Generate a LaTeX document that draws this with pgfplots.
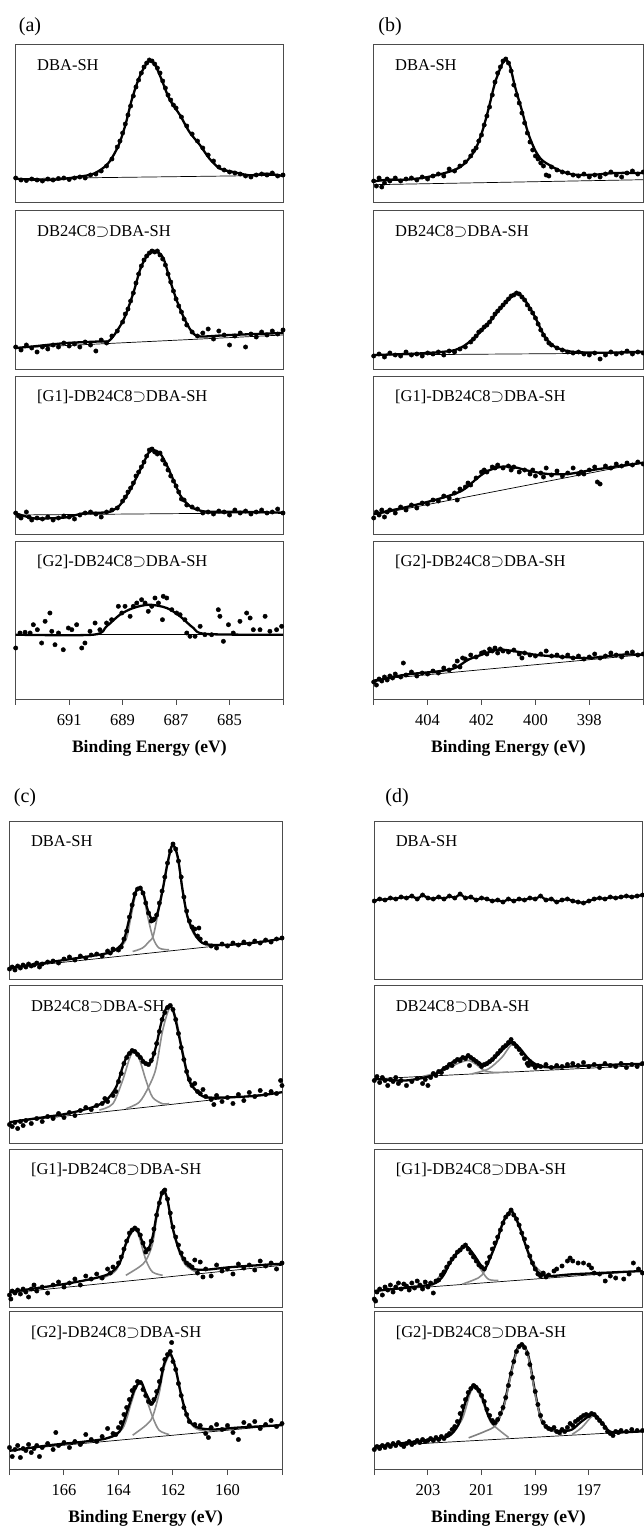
\documentclass[border=0pt]{standalone}
\usepackage{fontspec}
\setmainfont{Liberation Serif}
\usepackage{pgfplots}
\pgfplotsset{compat=1.18}

\tikzset{
  lbl/.style={anchor=base west, xshift=18pt, yshift=-25.5pt, font=\fontsize{16.5}{18}\selectfont},
  tag/.style={font=\fontsize{20}{22}\selectfont},
}
\pgfplotsset{
  panel/.style={scale only axis, height=158pt, ymin=0, ymax=158, ytick=\empty,
    x dir=reverse, anchor=north west,
    axis line style={draw=black!70, line width=1pt},
    tick style={draw=black!70, line width=1pt}},
  bottomrow/.style={tick align=outside, major tick length=5.7pt, xtick pos=bottom,
    xticklabel style={font=\fontsize{16.5}{18}\selectfont, yshift=-6pt},
    xlabel={\bfseries Binding Energy (eV)},
    xlabel style={font=\fontsize{17.5}{19}\selectfont, at={(axis description cs:0.5,0)}, anchor=center, yshift=-49pt}},
  dots/.style={only marks, mark=*, mark size=2.2pt, black},
  fitl/.style={black, line width=2.3pt, no marks, smooth},
  base/.style={black, line width=0.7pt, no marks},
  comp/.style={black!45, line width=1.6pt, no marks, smooth},
}

\begin{document}
\begin{tikzpicture}[x=1pt,y=1pt]
\path[use as bounding box] (0pt,0pt) rectangle (644pt,-1530pt);
\node[tag] at (30pt,-27pt) {(a)};
\node[tag] at (390pt,-27pt) {(b)};
\node[tag] at (25pt,-798pt) {(c)};
\node[tag] at (397pt,-798pt) {(d)};

% ---------------- (a) F 1s
\begin{axis}[panel, at={(15.7pt,-45pt)}, width=267.3pt, xmin=683, xmax=693, xtick=\empty]
\addplot[base] coordinates {(693,24.3)(683,27.7)};
\addplot[dots] coordinates {(693,25)(692.8,23)(692.6,22.5)(692.4,24)(692.2,23)(692,22)(691.8,24)(691.6,23)(691.4,24.5)(691.2,25)(691,23.5)(690.8,25)(690.6,26)(690.4,25)(690.2,28)(690,29)(689.8,32)(689.6,37)(689.4,44)(689.2,56)(689.1,62)(689,70)(688.9,79)(688.8,88)(688.7,97)(688.6,107)(688.5,116)(688.4,123)(688.3,130)(688.2,136)(688.1,140)(688,143)(687.9,142)(687.8,139)(687.7,135)(687.6,130)(687.5,122)(687.4,115)(687.3,108)(687.2,103)(687.1,98)(687,95)(686.8,86)(686.6,77)(686.4,69)(686.2,62)(686,55)(685.8,48)(685.6,42)(685.4,36)(685.2,33)(685,31)(684.8,30)(684.6,29)(684.4,27)(684.2,26)(684,28)(683.8,29)(683.6,28)(683.4,30)(683.2,27)(683,28)};
\addplot[fitl] coordinates {(693,24.3)(691.7,23)(690.3,27.7)(689.85,32.7)(689.5,41)(689.15,57.7)(688.9,77.7)(688.65,104)(688.4,124)(688.15,137.7)(687.98,142)(687.8,139)(687.55,124)(687.25,104)(686.85,87.7)(686.5,71)(686.1,57.7)(685.75,44.3)(685.35,34.3)(684.85,31)(684.25,27.7)(683.6,29.3)(683,27)};
\node[lbl] at (rel axis cs:0,1) {DBA-SH};
\end{axis}

\begin{axis}[panel, at={(15.7pt,-211pt)}, width=267.3pt, xmin=683, xmax=693, xtick=\empty]
\addplot[base] coordinates {(693,21)(683,34)};
\addplot[dots] coordinates {(693,22)(692.8,19)(692.6,24)(692.4,21)(692.2,17)(692,22)(691.8,20)(691.6,24)(691.4,22)(691.2,26)(691,23)(690.8,25)(690.6,22)(690.4,27)(690.2,24)(690,18)(689.8,29)(689.6,26)(689.4,33)(689.2,38)(689,47)(688.9,55)(688.8,60)(688.7,68)(688.6,76)(688.5,86)(688.4,95)(688.3,103)(688.2,109)(688.1,113)(688,116)(687.9,118)(687.8,117)(687.7,118)(687.6,114)(687.5,110)(687.4,104)(687.3,95)(687.2,87)(687.1,78)(687,70)(686.9,63)(686.8,57)(686.7,50)(686.6,44)(686.4,37)(686.2,33)(686,36)(685.8,40)(685.6,30)(685.4,38)(685.2,34)(685,24)(684.8,33)(684.6,36)(684.4,22)(684.2,35)(684,32)(683.8,37)(683.6,34)(683.4,38)(683.2,35)(683,39)};
\addplot[fitl] coordinates {(693,21)(692.34,22.6)(691.09,26)(689.85,27.6)(689.47,29)(688.97,49)(688.6,76)(688.35,99)(688.1,112.6)(687.79,117.7)(687.48,111)(687.23,89)(686.98,69)(686.73,52.6)(686.42,37.6)(686.1,32.6)(685,34)(683,36)};
\node[lbl] at (rel axis cs:0,1) {DB24C8$\supset$DBA-SH};
\end{axis}

\begin{axis}[panel, at={(15.7pt,-376pt)}, width=267.3pt, xmin=683, xmax=693, xtick=\empty]
\addplot[base] coordinates {(693,19)(683,21.3)};
\addplot[dots] coordinates {(693,21)(692.9,18)(692.8,16)(692.6,22)(692.5,17)(692.4,14)(692.2,16)(692,15)(691.8,17)(691.6,14)(691.4,16)(691.2,18)(691,17)(690.8,15)(690.6,19)(690.4,21)(690.2,22)(690,20)(689.8,17)(689.6,22)(689.4,24)(689.2,26)(689,33)(688.9,37)(688.8,42)(688.7,46)(688.6,51)(688.5,58)(688.4,62)(688.3,67)(688.2,72)(688.1,78)(688,84)(687.9,85)(687.8,82)(687.7,80)(687.6,81)(687.5,74)(687.4,70)(687.3,64)(687.2,58)(687.1,53)(687,48)(686.9,42)(686.8,35)(686.7,34)(686.6,29)(686.4,27)(686.2,25)(686,21)(685.8,22)(685.6,20)(685.4,23)(685.2,22)(685,19)(684.8,24)(684.6,21)(684.4,23)(684.2,20)(684,22)(683.8,24)(683.6,21)(683.4,22)(683.2,25)(683,21)};
\addplot[fitl] coordinates {(693,20.7)(692.34,15.7)(691.72,15.7)(691.09,16.7)(690.47,20.7)(689.85,21.3)(689.47,22.3)(689.1,29)(688.72,44)(688.47,57.3)(688.22,70.7)(688.04,80.7)(687.85,84)(687.6,80.7)(687.35,69)(687.1,54)(686.85,39)(686.6,30.7)(686.35,25.7)(685.86,22.3)(684.86,22.3)(683,21.3)};
\node[lbl] at (rel axis cs:0,1) {[G1]-DB24C8$\supset$DBA-SH};
\end{axis}

\begin{axis}[panel, bottomrow, at={(15.7pt,-541pt)}, width=267.3pt, xmin=683, xmax=693,
  xtick={683,685,...,693}, xticklabels={,685,687,689,691,}]
\addplot[base] coordinates {(693,64.3)(683,64.3)};
\addplot[dots] coordinates {(693,51)(692.84,66)(692.65,66.7)(692.46,66)(692.34,74.3)(692.19,69.3)(692.03,56)(691.9,77.7)(691.72,86)(691.65,67.7)(691.53,54.3)(691.4,66)(691.22,49.3)(691.03,71)(690.9,69.3)(690.72,74.3)(690.53,51)(690.41,56)(690.22,67.7)(690.03,76)(689.85,69.3)(689.6,76)(689.41,79.3)(689.16,92.7)(689.03,86)(688.91,92.7)(688.72,82.7)(688.6,92.7)(688.47,96)(688.29,99.3)(688.16,96)(688.04,87.7)(687.91,92.7)(687.79,101)(687.66,96)(687.51,79.3)(687.48,102.7)(687.35,101)(687.16,89.3)(686.98,86)(686.85,84.3)(686.67,79.3)(686.6,66)(686.48,62.7)(686.29,62.7)(686.1,72.7)(685.92,64.3)(685.67,64.3)(685.42,89.3)(685.36,82.7)(685.23,57.7)(685.04,74.3)(684.86,66)(684.61,77.7)(684.36,86)(684.23,81)(684.11,69.3)(683.86,69.3)(683.67,82.7)(683.49,67.7)(683.24,69.3)(683.05,72.7)};
\addplot[fitl] coordinates {(693,64.3)(690.1,64.3)(689.6,72.7)(689.1,84.3)(688.6,91)(688,94.3)(687.35,91)(686.85,82.7)(686.35,71)(685.86,65)(683,64.3)};
\node[lbl] at (rel axis cs:0,1) {[G2]-DB24C8$\supset$DBA-SH};
\end{axis}

% ---------------- (b) N 1s
\begin{axis}[panel, at={(373.7pt,-45pt)}, width=269.5pt, xmin=396, xmax=406, xtick=\empty]
\addplot[base] coordinates {(406,18.3)(396,23.3)};
\addplot[dots] coordinates {(406,22)(405.9,17)(405.8,25)(405.7,16)(405.6,20)(405.5,24)(405.4,22)(405.2,25)(405,22)(404.8,24)(404.6,25)(404.4,23)(404.2,26)(404,24)(403.8,27)(403.6,29)(403.4,27)(403.2,34)(403,32)(402.8,37)(402.6,41)(402.4,47)(402.3,52)(402.2,55)(402.1,62)(402,68)(401.9,78)(401.8,87)(401.7,96)(401.6,108)(401.5,121)(401.4,130)(401.3,136)(401.2,142)(401.1,144)(401,140)(400.9,132)(400.8,118)(400.7,108)(400.6,100)(400.5,90)(400.4,80)(400.3,70)(400.2,61)(400.1,53)(400,47)(399.9,44)(399.8,40)(399.7,37)(399.6,28)(399.5,27)(399.4,36)(399.2,33)(399,31)(398.8,30)(398.6,28)(398.4,27)(398.2,29)(398,26)(397.8,28)(397.6,26)(397.4,29)(397.2,31)(397,28)(396.8,26)(396.6,30)(396.4,32)(396.2,29)(396,31)};
\addplot[fitl] coordinates {(406,21.7)(405.45,23.3)(404.83,23.3)(404.21,25)(403.6,28.3)(402.98,33.3)(402.61,40)(402.24,53)(401.99,70)(401.75,93)(401.5,120)(401.25,138)(401.1,143.3)(400.94,136.7)(400.76,116.7)(400.51,93.3)(400.27,70)(400.02,53.3)(399.77,43.3)(399.4,36.7)(399.03,31.7)(398.54,28.3)(397.8,28.3)(397.06,30)(396,30)};
\node[lbl] at (rel axis cs:0,1) {DBA-SH};
\end{axis}

\begin{axis}[panel, at={(373.7pt,-211pt)}, width=269.5pt, xmin=396, xmax=406, xtick=\empty]
\addplot[base] coordinates {(406,14)(396,16)};
\addplot[dots] coordinates {(406,13)(405.8,15)(405.6,12)(405.4,16)(405.2,14)(405,13)(404.8,17)(404.6,14)(404.4,15)(404.2,13)(404,16)(403.8,15)(403.6,17)(403.4,14)(403.2,18)(403,17)(402.8,20)(402.6,22)(402.4,27)(402.3,30)(402.2,33)(402.1,37)(402,39)(401.9,42)(401.8,44)(401.7,47)(401.6,51)(401.5,55)(401.4,58)(401.3,61)(401.2,64)(401.1,67)(401,70)(400.9,73)(400.8,74)(400.7,76)(400.6,75)(400.5,72)(400.4,69)(400.3,64)(400.2,60)(400.1,56)(400,51)(399.9,45)(399.8,39)(399.7,34)(399.6,30)(399.5,26)(399.4,24)(399.2,21)(399,19)(398.8,17)(398.6,16)(398.4,17)(398.2,15)(398,14)(397.8,16)(397.6,10)(397.4,14)(397.2,17)(397,15)(396.8,16)(396.6,18)(396.4,15)(396.2,17)(396,16)};
\addplot[fitl] coordinates {(406,14)(404.21,15.7)(402.98,19)(402.36,29)(401.75,45.7)(401.25,62.3)(400.88,72.3)(400.66,75.7)(400.39,69)(400.02,52.3)(399.65,32.3)(399.28,22.3)(398.66,17.3)(397.43,16.3)(396,17.3)};
\node[lbl] at (rel axis cs:0,1) {DB24C8$\supset$DBA-SH};
\end{axis}

\begin{axis}[panel, at={(373.7pt,-376pt)}, width=269.5pt, xmin=396, xmax=406, xtick=\empty]
\addplot[base] coordinates {(406,19)(396,71.3)};
\addplot[dots] coordinates {(406,16)(405.9,22)(405.8,19)(405.7,24)(405.6,17)(405.5,22)(405.4,24)(405.2,21)(405,27)(404.8,24)(404.6,29)(404.4,26)(404.2,31)(404,30)(403.8,34)(403.6,33)(403.4,38)(403.2,36)(403,41)(402.9,34)(402.8,45)(402.6,47)(402.5,51)(402.4,49)(402.2,56)(402,62)(401.9,64)(401.8,62)(401.6,67)(401.5,66)(401.4,69)(401.2,66)(401,68)(400.9,64)(400.8,67)(400.6,62)(400.4,64)(400.2,60)(400.1,64)(400,58)(399.8,61)(399.7,57)(399.6,66)(399.4,59)(399.2,63)(399,58)(398.8,61)(398.6,66)(398.4,60)(398.3,62)(398.2,60)(398,64)(397.8,67)(397.7,52)(397.6,50)(397.4,68)(397.2,66)(397,70)(396.8,68)(396.6,71)(396.4,69)(396.2,72)(396,70)};
\addplot[fitl] coordinates {(406,20)(404.83,26.7)(403.6,35)(402.73,43.3)(402.12,56.7)(401.75,63.3)(401.25,67.3)(400.76,66.7)(400.27,63.3)(399.53,60)(398.79,60)(398.05,63.3)(397.06,67.3)(396,71.3)};
\node[lbl] at (rel axis cs:0,1) {[G1]-DB24C8$\supset$DBA-SH};
\end{axis}

\begin{axis}[panel, bottomrow, at={(373.7pt,-541pt)}, width=269.5pt, xmin=396, xmax=406,
  xtick={396,398,...,406}, xticklabels={,398,400,402,404,}]
\addplot[base] coordinates {(406,19.3)(396,44.3)};
\addplot[dots] coordinates {(406,17)(405.9,14)(405.8,20)(405.7,18)(405.6,22)(405.5,19)(405.4,23)(405.3,21)(405.2,25)(405,22)(404.9,36)(404.8,24)(404.6,27)(404.4,23)(404.2,26)(404,25)(403.8,28)(403.6,26)(403.4,31)(403.2,29)(403,33)(402.9,38)(402.8,32)(402.7,41)(402.6,40)(402.4,44)(402.2,42)(402,46)(401.9,47)(401.8,45)(401.7,50)(401.6,48)(401.5,51)(401.4,46)(401.3,50)(401.2,48)(401,47)(400.8,49)(400.6,45)(400.5,41)(400.4,46)(400.2,44)(400,43)(399.8,45)(399.6,48)(399.4,43)(399.2,44)(399,42)(398.8,44)(398.6,41)(398.4,43)(398.2,40)(398,42)(397.8,45)(397.6,41)(397.4,43)(397.2,46)(397,44)(396.8,42)(396.6,46)(396.4,47)(396.2,44)(396,45)};
\addplot[fitl] coordinates {(406,17.7)(404.83,24.3)(403.6,27.7)(402.98,31)(402.49,39.3)(401.99,44.3)(401.38,49.3)(400.76,47.7)(400.02,44.3)(399.28,42.7)(398.05,41)(396.81,44.3)(396,44.3)};
\node[lbl] at (rel axis cs:0,1) {[G2]-DB24C8$\supset$DBA-SH};
\end{axis}

% ---------------- (c) S 2p
\begin{axis}[panel, at={(9.5pt,-821pt)}, width=272.5pt, xmin=158, xmax=168, xtick=\empty]
\addplot[base] coordinates {(168,11)(158,40)};
\addplot[comp] coordinates {(164.09,27.3)(163.73,39)(163.54,62.7)(163.36,86)(163.24,91)(163.09,84)(162.93,62.7)(162.73,41)(162.51,31)(162.14,29.2)};
\addplot[comp] coordinates {(163.48,27.5)(163.12,31)(162.87,37.7)(162.73,42.7)(162.57,62.7)(162.38,87.7)(162.2,114)(162.02,132.7)(161.83,121)(161.65,87.7)(161.47,61)(161.22,44.3)(160.92,36)(160.55,33.5)};
\addplot[dots] coordinates {(168,10)(167.9,12)(167.8,9)(167.7,13)(167.6,11)(167.5,14)(167.4,12)(167.3,15)(167.2,13)(167.1,14)(167,16)(166.9,12)(166.8,15)(166.6,17)(166.4,18)(166.2,16)(166,20)(165.8,22)(165.6,19)(165.4,23)(165.2,21)(165,24)(164.8,25)(164.6,23)(164.4,28)(164.3,26)(164.2,30)(164,29)(163.9,32)(163.8,40)(163.7,48)(163.6,62)(163.5,74)(163.4,85)(163.3,90)(163.2,91)(163.1,86)(163,76)(162.9,66)(162.8,58)(162.7,60)(162.6,64)(162.5,76)(162.4,88)(162.3,102)(162.2,116)(162.1,128)(162,135)(161.9,130)(161.8,118)(161.7,102)(161.6,82)(161.5,68)(161.4,58)(161.3,52)(161.2,50)(161.1,43)(161.05,51)(161,40)(160.8,36)(160.6,33)(160.4,31)(160.2,35)(160,33)(159.8,36)(159.6,34)(159.4,37)(159.2,35)(159,38)(158.8,36)(158.6,39)(158.4,37)(158.2,40)(158,41)};
\addplot[fitl] coordinates {(168,11)(167.15,14.3)(165.92,19.3)(164.7,24.3)(164.21,27.7)(163.85,36)(163.67,52.7)(163.48,76)(163.36,87.7)(163.24,91)(163.09,86)(162.93,69.3)(162.73,57.7)(162.57,66)(162.38,89.3)(162.2,116)(162.02,134.3)(161.83,122.7)(161.65,89.3)(161.47,62.7)(161.22,46)(160.92,36)(160.43,34)(159.58,34.8)(158.6,37.7)(158,40.5)};
\node[lbl] at (rel axis cs:0,1) {DBA-SH};
\end{axis}

\begin{axis}[panel, at={(9.5pt,-985.5pt)}, width=272.5pt, xmin=158, xmax=168, xtick=\empty]
\addplot[base] coordinates {(168,21.3)(158,51.3)};
\addplot[comp] coordinates {(164.7,33.5)(164.21,39.7)(163.85,63)(163.6,84.7)(163.46,91.3)(163.24,84.7)(162.99,63)(162.75,46.3)(162.38,39.7)(162.14,40)};
\addplot[comp] coordinates {(163.73,34.7)(163.24,41.3)(162.9,56.3)(162.63,74.7)(162.38,113)(162.11,136.3)(161.9,126.3)(161.65,93)(161.41,66.3)(161.04,49.7)(160.55,44.7)};
\addplot[dots] coordinates {(168,19)(167.9,17)(167.8,21)(167.7,15)(167.6,22)(167.5,18)(167.4,23)(167.2,20)(167,25)(166.8,22)(166.6,27)(166.4,25)(166.2,30)(166,26)(165.8,31)(165.6,28)(165.4,33)(165.2,36)(165,34)(164.8,38)(164.6,40)(164.5,45)(164.4,42)(164.2,48)(164.1,52)(164,62)(163.9,70)(163.8,80)(163.7,86)(163.6,90)(163.5,93)(163.4,92)(163.3,89)(163.2,86)(163.1,82)(163,80)(162.9,79)(162.8,83)(162.7,90)(162.6,100)(162.5,112)(162.4,124)(162.3,131)(162.2,136)(162.1,138)(162,134)(161.9,124)(161.8,110)(161.7,96)(161.6,84)(161.5,72)(161.4,64)(161.3,58)(161.2,60)(161.1,52)(161,50)(160.9,54)(160.8,47)(160.6,44)(160.5,39)(160.4,48)(160.2,42)(160,46)(159.8,40)(159.6,49)(159.4,43)(159.2,51)(159,47)(158.8,53)(158.6,49)(158.4,52)(158.2,50)(158.05,63)(158,58)};
\addplot[fitl] coordinates {(168,21.3)(167.15,24.7)(165.92,29.7)(164.95,36.3)(164.46,43)(164.09,56.3)(163.85,76.3)(163.67,88.3)(163.46,93)(163.24,88.3)(162.99,79.7)(162.81,81.3)(162.63,96.3)(162.44,119.7)(162.26,134.7)(162.11,138)(161.96,129.7)(161.77,106.3)(161.59,83)(161.41,63)(161.16,53)(160.8,46.3)(159.82,46.3)(158.84,48)(158,51.3)};
\node[lbl] at (rel axis cs:0,1) {DB24C8$\supset$DBA-SH};
\end{axis}

\begin{axis}[panel, at={(9.5pt,-1149pt)}, width=272.5pt, xmin=158, xmax=168, xtick=\empty]
\addplot[base] coordinates {(168,14)(158,41.7)};
\addplot[comp] coordinates {(164.7,28)(164.09,36.7)(163.73,61.7)(163.54,73.3)(163.38,77.3)(163.24,70)(162.99,46.7)(162.75,35)(162.38,31.7)};
\addplot[comp] coordinates {(163.73,31.7)(163.24,40)(162.99,46.7)(162.75,63.3)(162.57,93.3)(162.36,115)(162.2,105)(162.02,78.3)(161.77,55)(161.53,41.7)(161.16,35)};
\addplot[dots] coordinates {(168,12)(167.95,8)(167.9,16)(167.8,14)(167.7,17)(167.6,13)(167.5,18)(167.4,15)(167.3,10)(167.2,18)(167.1,22)(167,16)(166.8,20)(166.6,14)(166.4,22)(166.2,25)(166,20)(165.8,24)(165.6,28)(165.4,22)(165.2,31)(165,28)(164.8,33)(164.6,29)(164.4,38)(164.3,34)(164.2,40)(164,44)(163.9,50)(163.8,58)(163.7,66)(163.6,74)(163.5,77)(163.4,79)(163.3,77)(163.2,72)(163.1,64)(163,55)(162.9,58)(162.8,66)(162.7,78)(162.6,92)(162.5,104)(162.4,114)(162.3,117)(162.2,108)(162.1,94)(162,80)(161.9,70)(161.8,62)(161.7,54)(161.6,48)(161.5,44)(161.4,42)(161.3,40)(161.2,47)(161.1,34)(161,45)(160.9,30)(160.8,38)(160.6,31)(160.4,42)(160.2,36)(160,38)(159.8,33)(159.6,43)(159.4,39)(159.2,42)(159,37)(158.8,46)(158.6,41)(158.4,44)(158.2,38)(158,44)};
\addplot[fitl] coordinates {(168,15)(167.15,18.3)(165.92,23.3)(164.95,28.3)(164.34,33.3)(163.97,43.3)(163.73,63.3)(163.54,75)(163.38,78.3)(163.24,73.3)(163.05,60)(162.93,56.7)(162.75,70)(162.57,96.7)(162.36,116.7)(162.2,106.7)(162.02,80)(161.77,56.7)(161.53,45)(161.28,38.3)(160.8,37.3)(159.82,40)(158,43.3)};
\node[lbl] at (rel axis cs:0,1) {[G1]-DB24C8$\supset$DBA-SH};
\end{axis}

\begin{axis}[panel, bottomrow, at={(9.5pt,-1311.5pt)}, width=272.5pt, xmin=158, xmax=168,
  xtick={158,160,...,168}, xticklabels={,160,162,164,166,}]
\addplot[base] coordinates {(168,19.3)(158,44.3)};
\addplot[comp] coordinates {(164.46,31)(163.85,41)(163.54,66)(163.34,82.7)(163.18,86.7)(162.99,72)(162.75,52.7)(162.51,39.3)(162.14,35)};
\addplot[comp] coordinates {(163.48,34.3)(162.99,44.3)(162.75,52.7)(162.51,76)(162.32,102.7)(162.11,114.3)(161.92,101)(161.71,74.3)(161.47,51)(161.16,41)(160.8,38.5)};
\addplot[dots] coordinates {(168,22)(167.9,13)(167.8,20)(167.7,24)(167.6,12)(167.5,21)(167.4,19)(167.3,25)(167.2,17)(167.1,21)(167,24)(166.9,13)(166.8,22)(166.6,26)(166.4,20)(166.3,37)(166.2,24)(166,27)(165.8,22)(165.6,28)(165.4,25)(165.2,35)(165,30)(164.8,28)(164.6,33)(164.4,41)(164.2,36)(164.1,35)(164,42)(163.9,47)(163.8,55)(163.7,62)(163.6,70)(163.5,79)(163.4,82)(163.3,88)(163.2,87)(163.1,80)(163,74)(162.9,68)(162.8,66)(162.7,70)(162.6,78)(162.5,88)(162.4,100)(162.3,110)(162.2,115)(162.1,118)(162.05,127)(162,108)(161.9,100)(161.8,86)(161.7,74)(161.6,62)(161.5,55)(161.4,48)(161.2,45)(161,44)(160.8,36)(160.7,32)(160.6,42)(160.4,45)(160.2,40)(160,44)(159.8,37)(159.6,30)(159.4,47)(159.2,44)(159,48)(158.8,41)(158.6,45)(158.4,49)(158.2,43)(158,46)};
\addplot[fitl] coordinates {(168,18.7)(166.53,24.3)(165.31,27.7)(164.46,31)(163.97,37.7)(163.67,59.3)(163.42,79.3)(163.18,87.7)(162.99,76)(162.75,66)(162.51,82.7)(162.32,106)(162.11,116)(161.92,102.7)(161.71,76)(161.47,52.7)(161.16,42.7)(160.55,40)(159.58,42)(158,44.3)};
\node[lbl] at (rel axis cs:0,1) {[G2]-DB24C8$\supset$DBA-SH};
\end{axis}

% ---------------- (d) S 2p (sulfonate)
\begin{axis}[panel, at={(374.3pt,-821pt)}, width=268.2pt, xmin=195, xmax=205, xtick=\empty]
\addplot[dots] coordinates {(205,78)(204.8,80)(204.6,79)(204.4,81)(204.2,80)(204,82)(203.8,81)(203.6,83)(203.4,80)(203.2,84)(203,81)(202.8,80)(202.6,82)(202.4,80)(202.2,83)(202,81)(201.8,85)(201.6,81)(201.4,82)(201.2,79)(201,81)(200.8,80)(200.6,78)(200.4,79)(200.2,77)(200,80)(199.8,78)(199.6,80)(199.4,79)(199.2,81)(199,80)(198.8,83)(198.6,79)(198.4,80)(198.2,77)(198,79)(197.8,80)(197.6,78)(197.4,77)(197.2,76)(197,78)(196.8,80)(196.6,81)(196.4,80)(196.2,82)(196,81)(195.8,82)(195.6,83)(195.4,82)(195.2,83)(195,84)};
\addplot[black, line width=2.3pt, no marks] coordinates {(205,78)(204.8,80)(204.6,79)(204.4,81)(204.2,80)(204,82)(203.8,81)(203.6,83)(203.4,80)(203.2,84)(203,81)(202.8,80)(202.6,82)(202.4,80)(202.2,83)(202,81)(201.8,85)(201.6,81)(201.4,82)(201.2,79)(201,81)(200.8,80)(200.6,78)(200.4,79)(200.2,77)(200,80)(199.8,78)(199.6,80)(199.4,79)(199.2,81)(199,80)(198.8,83)(198.6,79)(198.4,80)(198.2,77)(198,79)(197.8,80)(197.6,78)(197.4,77)(197.2,76)(197,78)(196.8,80)(196.6,81)(196.4,80)(196.2,82)(196,81)(195.8,82)(195.6,83)(195.4,82)(195.2,83)(195,84)};
\node[lbl] at (rel axis cs:0,1) {DBA-SH};
\end{axis}

\begin{axis}[panel, at={(374.3pt,-985.5pt)}, width=268.2pt, xmin=195, xmax=205, xtick=\empty]
\addplot[base] coordinates {(205,64.7)(195,78)};
\addplot[comp] coordinates {(203.2,67.1)(202.6,71)(202.2,76)(201.8,81)(201.48,83)(201.2,79)(200.9,73)(200.5,71)(200,71.6)};
\addplot[comp] coordinates {(201.36,69.7)(200.74,74.7)(200.24,86.3)(199.84,99.7)(199.5,91.3)(199,78)(198.5,75.5)(198,76)};
\addplot[dots] coordinates {(205,63)(204.9,67)(204.8,61)(204.7,66)(204.6,63)(204.5,58)(204.4,64)(204.3,62)(204.2,66)(204.1,60)(204,63)(203.8,58)(203.6,62)(203.4,65)(203.2,60)(203.1,64)(203,58)(202.9,66)(202.8,70)(202.7,68)(202.6,72)(202.5,71)(202.4,75)(202.3,76)(202.2,79)(202.1,78)(202,82)(201.9,84)(201.8,83)(201.7,86)(201.6,85)(201.5,88)(201.45,78)(201.4,86)(201.3,84)(201.2,82)(201.1,80)(201,77)(200.9,79)(200.8,80)(200.7,82)(200.6,84)(200.5,87)(200.4,90)(200.3,93)(200.2,96)(200.1,98)(200,101)(199.9,104)(199.8,100)(199.7,97)(199.6,94)(199.5,90)(199.4,85)(199.3,80)(199.25,78)(199.2,82)(199.1,79)(199,76)(198.9,78)(198.8,77)(198.6,79)(198.4,76)(198.2,78)(198,77)(197.8,79)(197.6,80)(197.4,78)(197.2,81)(197,77)(196.8,79)(196.6,76)(196.4,80)(196.2,78)(196,77)(195.8,80)(195.6,76)(195.4,79)(195.2,77)(195,80)};
\addplot[fitl] coordinates {(205,64.7)(203.84,63)(202.85,68)(202.35,76.3)(201.98,83)(201.48,87)(201.11,81.3)(200.86,78)(200.49,86.3)(200.12,96.3)(199.84,101.3)(199.56,94.7)(199.25,84.7)(198.88,78)(198.25,76.3)(197.01,78)(195,79.7)};
\node[lbl] at (rel axis cs:0,1) {DB24C8$\supset$DBA-SH};
\end{axis}

\begin{axis}[panel, at={(374.3pt,-1149pt)}, width=268.2pt, xmin=195, xmax=205, xtick=\empty]
\addplot[base] coordinates {(205,16)(195,36)};
\addplot[comp] coordinates {(202.85,21)(202.23,42.7)(201.86,54.3)(201.58,60)(201.3,49.3)(200.99,36)(200.74,27.7)(200.37,26.5)};
\addplot[comp] coordinates {(201.73,22.7)(201.11,29.3)(200.89,36)(200.61,52.7)(200.18,84.3)(199.89,94.3)(199.62,81)(199.31,59.3)(199,41)(198.63,32.7)(198.2,30.5)};
\addplot[dots] coordinates {(205,8)(204.95,6)(204.9,15)(204.8,18)(204.7,12)(204.6,20)(204.5,17)(204.4,22)(204.3,15)(204.2,20)(204.1,24)(204,18)(203.9,23)(203.8,21)(203.7,17)(203.6,24)(203.5,19)(203.4,26)(203.3,22)(203.2,18)(203.1,25)(203,20)(202.9,24)(202.8,14)(202.7,26)(202.6,27)(202.5,32)(202.4,35)(202.3,40)(202.2,44)(202.1,48)(202,51)(201.9,55)(201.8,57)(201.7,60)(201.6,62)(201.5,58)(201.4,54)(201.3,50)(201.2,46)(201.1,42)(201,40)(200.9,38)(200.8,44)(200.7,50)(200.6,58)(200.5,64)(200.4,70)(200.3,77)(200.2,84)(200.1,90)(200,93)(199.9,97)(199.8,92)(199.7,88)(199.6,82)(199.5,74)(199.4,68)(199.3,60)(199.2,51)(199.1,44)(199,38)(198.9,33)(198.8,31)(198.7,34)(198.6,30)(198.5,32)(198.3,36)(198.2,38)(198,41)(197.8,46)(197.7,49)(197.6,46)(197.4,44)(197.2,44)(197,42)(196.9,39)(196.8,34)(196.6,33)(196.39,26)(196.2,31)(196,29)(195.7,28)(195.5,33)(195.34,44)(195.15,38)(195,34)};
\addplot[fitl] coordinates {(205,16)(203.84,19.3)(202.85,22.7)(202.48,29.3)(202.17,44.3)(201.86,56)(201.58,61)(201.3,52.7)(201.05,42.7)(200.89,37.7)(200.68,49.3)(200.43,66)(200.18,86)(199.89,96)(199.62,82.7)(199.37,62.7)(199.12,44.3)(198.88,34.3)(198.5,31)(197.63,32.7)(196.39,34.3)(195,36)};
\node[lbl] at (rel axis cs:0,1) {[G1]-DB24C8$\supset$DBA-SH};
\end{axis}

\begin{axis}[panel, bottomrow, at={(374.3pt,-1311.5pt)}, width=268.2pt, xmin=195, xmax=205,
  xtick={195,197,...,205}, xticklabels={,197,199,201,203,}]
\addplot[base] coordinates {(205,23.3)(195,38.3)};
\addplot[comp] coordinates {(202.23,33)(201.73,50)(201.42,76.7)(201.24,81.7)(200.99,70)(200.68,48.3)(200.37,40)(199.99,32)};
\addplot[comp] coordinates {(197.63,35)(197.26,42)(196.83,54)(196.52,46)(196.14,37)(195.8,36.7)};
\addplot[dots] coordinates {(205,20)(204.9,23)(204.8,21)(204.7,24)(204.6,22)(204.5,25)(204.4,23)(204.3,26)(204.2,24)(204.1,27)(204,25)(203.9,23)(203.8,26)(203.7,28)(203.6,25)(203.5,27)(203.4,29)(203.3,27)(203.2,30)(203.1,28)(203,29)(202.9,31)(202.8,29)(202.7,32)(202.6,30)(202.5,33)(202.4,31)(202.3,34)(202.2,36)(202.1,40)(202,43)(201.9,48)(201.8,56)(201.7,63)(201.6,70)(201.5,77)(201.4,81)(201.3,84)(201.2,82)(201.1,79)(201,74)(200.9,68)(200.8,60)(200.7,54)(200.6,49)(200.5,47)(200.4,50)(200.3,56)(200.2,62)(200.1,72)(200,84)(199.9,96)(199.8,108)(199.7,118)(199.6,123)(199.5,125)(199.4,122)(199.3,116)(199.2,105)(199.1,92)(199,78)(198.9,65)(198.8,54)(198.7,47)(198.6,43)(198.5,41)(198.4,40)(198.3,42)(198.2,38)(198.1,37)(198,40)(197.9,38)(197.8,42)(197.7,46)(197.6,44)(197.5,48)(197.4,50)(197.3,52)(197.2,54)(197.1,55)(197,54)(196.9,56)(196.8,55)(196.7,52)(196.6,49)(196.5,46)(196.4,42)(196.3,38)(196.2,36)(196.1,34)(196,38)(195.9,37)(195.8,39)(195.6,38)(195.4,40)(195.2,39)(195,39)};
\addplot[fitl] coordinates {(205,22.7)(203.84,26.7)(202.85,30)(202.23,33.3)(201.86,45)(201.61,66.7)(201.42,80)(201.24,84)(200.99,73.3)(200.74,53.3)(200.49,45)(200.18,63.3)(199.93,93.3)(199.68,120)(199.47,125)(199.25,113.3)(199,76.7)(198.75,48.3)(198.38,40)(198.01,38.3)(197.63,40)(197.26,48.3)(196.83,55)(196.45,45)(196.14,37.3)(195,38.3)};
\addplot[comp, black!50] coordinates {(201.48,31.7)(200.86,38.3)(200.49,44)(200.18,61.7)(199.93,91.7)(199.68,118.3)(199.47,125)(199.25,111.7)(199,75)(198.75,48.3)(198.38,39.3)(198,35)};
\node[lbl] at (rel axis cs:0,1) {[G2]-DB24C8$\supset$DBA-SH};
\end{axis}
\end{tikzpicture}
\end{document}
